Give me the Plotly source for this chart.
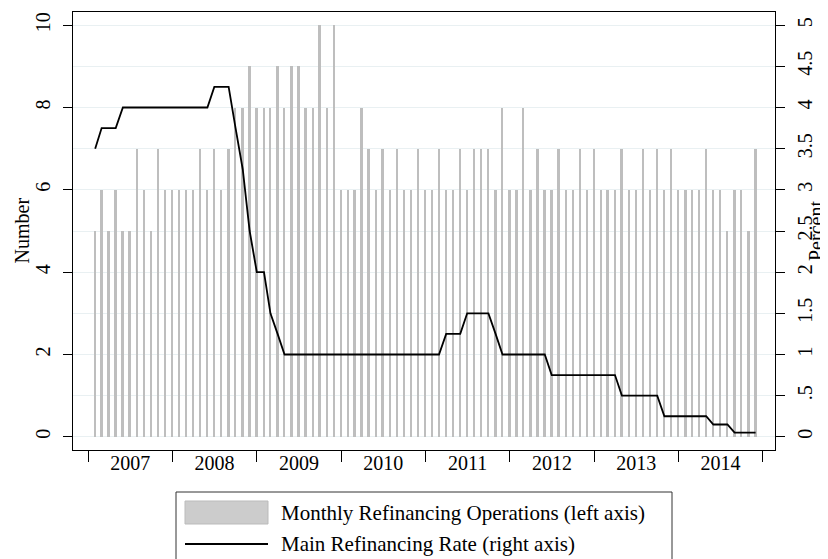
import plotly.graph_objects as go
import pandas as pd

# Months Feb 2007 - Dec 2014
months = pd.date_range("2007-02-01", periods=95, freq="MS")

operations = [5, 6, 5, 6, 5, 5, 7, 6, 5, 7, 6, 6,
              6, 6, 6, 7, 6, 7, 6, 7, 8, 8, 9, 8,
              8, 8, 9, 8, 9, 9, 8, 8, 10, 8, 10, 6,
              6, 6, 8, 7, 6, 7, 6, 7, 6, 6, 7, 6,
              6, 7, 6, 6, 7, 6, 7, 7, 7, 6, 8, 6,
              6, 8, 6, 7, 6, 6, 7, 6, 6, 7, 6, 7,
              6, 6, 6, 7, 6, 6, 7, 6, 7, 6, 7, 6,
              6, 6, 6, 7, 6, 6, 5, 6, 6, 5, 7]

rate = [3.5, 3.75, 3.75, 3.75, 4.0, 4.0, 4.0, 4.0, 4.0, 4.0, 4.0, 4.0,
        4.0, 4.0, 4.0, 4.0, 4.0, 4.25, 4.25, 4.25, 3.75, 3.25, 2.5, 2.0,
        2.0, 1.5, 1.25, 1.0, 1.0, 1.0, 1.0, 1.0, 1.0, 1.0, 1.0, 1.0,
        1.0, 1.0, 1.0, 1.0, 1.0, 1.0, 1.0, 1.0, 1.0, 1.0, 1.0, 1.0,
        1.0, 1.0, 1.25, 1.25, 1.25, 1.5, 1.5, 1.5, 1.5, 1.25, 1.0, 1.0,
        1.0, 1.0, 1.0, 1.0, 1.0, 0.75, 0.75, 0.75, 0.75, 0.75, 0.75, 0.75,
        0.75, 0.75, 0.75, 0.5, 0.5, 0.5, 0.5, 0.5, 0.5, 0.25, 0.25, 0.25,
        0.25, 0.25, 0.25, 0.25, 0.15, 0.15, 0.15, 0.05, 0.05, 0.05, 0.05]

left_ticks = [0, 2, 4, 6, 8, 10]
right_ticks = [0, 0.5, 1, 1.5, 2, 2.5, 3, 3.5, 4, 4.5, 5]
right_labels = ["0", ".5", "1", "1.5", "2", "2.5", "3", "3.5", "4", "4.5", "5"]

bar_label = "Monthly Refinancing Operations (left axis)"
line_label = "Main Refinancing Rate (right axis)"
left_title = "Number"
right_title = "Percent"

FONT = "Liberation Serif"
BAR_COLOR = "#bebebe"
GRID = "#e9f0f2"

# the page body adds an 8px margin; work in window pixels and shift
OFF = 8
FW, FH = 828 - OFF, 559 - OFF

fig = go.Figure()
fig.add_trace(go.Bar(
    x=months, y=operations, name=bar_label,
    marker=dict(color=BAR_COLOR, line=dict(width=0)),
    width=8 * 86400000, yaxis="y", showlegend=False,
))
fig.add_trace(go.Scatter(
    x=months, y=rate, name=line_label, mode="lines",
    line=dict(color="black", width=1.8), yaxis="y2", showlegend=False,
))

# plot area in window pixels
L, R, T, B = 73, 775, 12, 450
W, H = R - L, B - T
def px(x):
    return (x - L) / W
def py(y):
    return (B - y) / H

shapes = [
    dict(type="rect", xref="paper", yref="paper",
         x0=px(176), x1=px(672), y0=py(492), y1=py(600),
         line=dict(color="#333333", width=1), fillcolor="white"),
    dict(type="rect", xref="paper", yref="paper",
         x0=px(185), x1=px(268), y0=py(501), y1=py(524),
         line=dict(color="#bbbbbb", width=1), fillcolor="#cccccc"),
    dict(type="line", xref="paper", yref="paper",
         x0=px(185), x1=px(268), y0=py(544), y1=py(544),
         line=dict(color="black", width=1.8)),
]
annotations = [
    dict(xref="paper", yref="paper", x=px(279), y=py(512.5), text=bar_label,
         showarrow=False, xanchor="left", yanchor="middle",
         font=dict(family=FONT, size=21, color="black")),
    dict(xref="paper", yref="paper", x=px(279), y=py(544), text=line_label,
         showarrow=False, xanchor="left", yanchor="middle",
         font=dict(family=FONT, size=21, color="black")),
    dict(xref="paper", yref="paper", x=px(21.5), y=py(231), text=left_title,
         showarrow=False, xanchor="center", yanchor="middle", textangle=-90,
         font=dict(family=FONT, size=20, color="black")),
    dict(xref="paper", yref="paper", x=px(816), y=py(231), text=right_title,
         showarrow=False, xanchor="center", yanchor="middle", textangle=-90,
         font=dict(family=FONT, size=20, color="black")),
]

fig.update_layout(
    width=FW, height=FH,
    margin=dict(l=L - OFF, r=FW - (R - OFF), t=T - OFF, b=FH - (B - OFF),
                autoexpand=False),
    paper_bgcolor="white", plot_bgcolor="white",
    font=dict(family=FONT, size=20, color="black"),
    bargap=0,
    shapes=shapes, annotations=annotations,
    xaxis=dict(
        type="date", range=["2006-10-28", "2015-02-23"],
        tick0="2007-01-01", dtick="M12", tickformat="%Y",
        ticklabelmode="period", ticks="outside", ticklen=11,
        ticklabelstandoff=-16,
        tickcolor="black", tickwidth=1,
        showline=True, linecolor="black", linewidth=1, mirror=True,
        showgrid=False, zeroline=False,
        tickfont=dict(family=FONT, size=20, color="black"),
    ),
    yaxis=dict(
        range=[-0.32, 10.32], tickvals=left_ticks, tickangle=-90,
        ticks="outside", ticklen=9, tickcolor="black",
        ticklabelstandoff=5,
        showline=True, linecolor="black", linewidth=1, mirror=True,
        showgrid=True, gridcolor=GRID, gridwidth=1, zeroline=False,
        minor=dict(dtick=1, tick0=0, showgrid=True, gridcolor=GRID, ticks=""),
        tickfont=dict(family=FONT, size=20, color="black"),
    ),
    yaxis2=dict(
        overlaying="y", side="right", range=[-0.16, 5.16],
        tickvals=right_ticks, ticktext=right_labels, tickangle=-90,
        ticks="outside", ticklen=9, tickcolor="black",
        ticklabelstandoff=3,
        showline=False, showgrid=False, zeroline=False,
        tickfont=dict(family=FONT, size=20, color="black"),
    ),
)

fig.write_html("out.html")
